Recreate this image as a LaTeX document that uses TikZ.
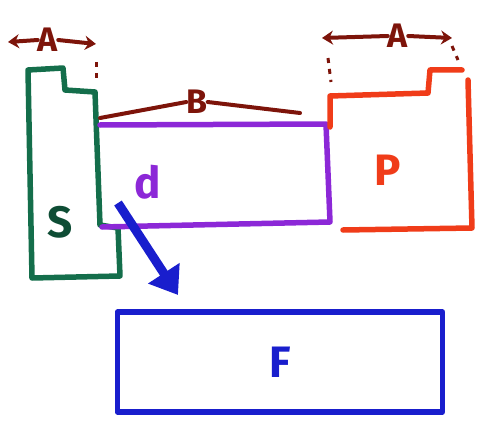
\documentclass[tikz,border=0pt]{standalone}
\usetikzlibrary{arrows.meta}
\usepackage{fontspec}
\setmainfont{Fira Sans}
\definecolor{grn}{RGB}{20,110,75}
\definecolor{prp}{RGB}{140,40,215}
\definecolor{rd}{RGB}{240,60,25}
\definecolor{brn}{RGB}{125,20,10}
\definecolor{blu}{RGB}{25,30,205}
\begin{document}
\begin{tikzpicture}[x=1pt,y=-1pt,
  pen/.style={line width=5.5pt,line join=round,line cap=round},
  lbl/.style={font=\fontsize{44}{46}\selectfont\bfseries,inner sep=0pt},
  dlbl/.style={font=\fontsize{34}{36}\selectfont\bfseries,inner sep=0pt,brn},
  dim/.style={brn,line width=4pt,line cap=round},
  guide/.style={brn,line width=3pt,dash pattern=on 5pt off 6pt}]
\useasboundingbox (0,0) rectangle (490,428);
% green piston S
\draw[pen,grn] (28,70) -- (63,68) -- (65,90) -- (95,92) -- (100,225) -- (118,228) -- (120,276) -- (32,278) -- cycle;
\node[lbl,grn!70!black] (S) at (60,222) {S};
% purple box d
\draw[pen,prp] (100,125) -- (326,124) -- (330,222) -- (102,227);
\node[lbl,prp] (d) at (148,182) {d};
% red piston P
\draw[pen,rd] (330,127) -- (330,96) -- (428,93) -- (430,70) -- (462,70);
\draw[pen,rd] (468,80) -- (472,228) -- (343,230);
\node[lbl,rd] (P) at (388,170) {P};
% blue box F
\node[draw=blu,pen,minimum width=325pt,minimum height=100pt,lbl,blu] (F) at (280,362) {F};
% arrow
\coordinate (a1) at (118,203);
\coordinate (a2) at (178,295);
\draw[blu,line width=9pt,-{Triangle[length=26pt,width=36pt]}] (a1) -- (a2);
% B dimension
\node[dlbl] (B) at (197,102) {B};
\coordinate (b1) at (100,118);
\coordinate (b2) at (300,113);
\draw[dim] (b1) -- (B.west);
\draw[dim] (B.east) -- (b2);
% A dimensions
\node[dlbl] (A1) at (48,40) {A};
\coordinate (l1) at (8,42); \coordinate (l2) at (96,44);
\draw[dim,-{Stealth[length=11pt,width=14pt]}] (A1.west) -- (l1);
\draw[dim,-{Stealth[length=11pt,width=14pt]}] (A1.east) -- (l2);
\draw[guide] (96,62) -- (96,80);
\node[dlbl] (A2) at (398,36) {A};
\coordinate (r1) at (322,38); \coordinate (r2) at (452,38);
\draw[dim,-{Stealth[length=11pt,width=14pt]}] (A2.west) -- (r1);
\draw[dim,-{Stealth[length=11pt,width=14pt]}] (A2.east) -- (r2);
\draw[guide] (328,58) -- (331,82);
\draw[guide] (452,46) -- (458,60);
\end{tikzpicture}
\end{document}
